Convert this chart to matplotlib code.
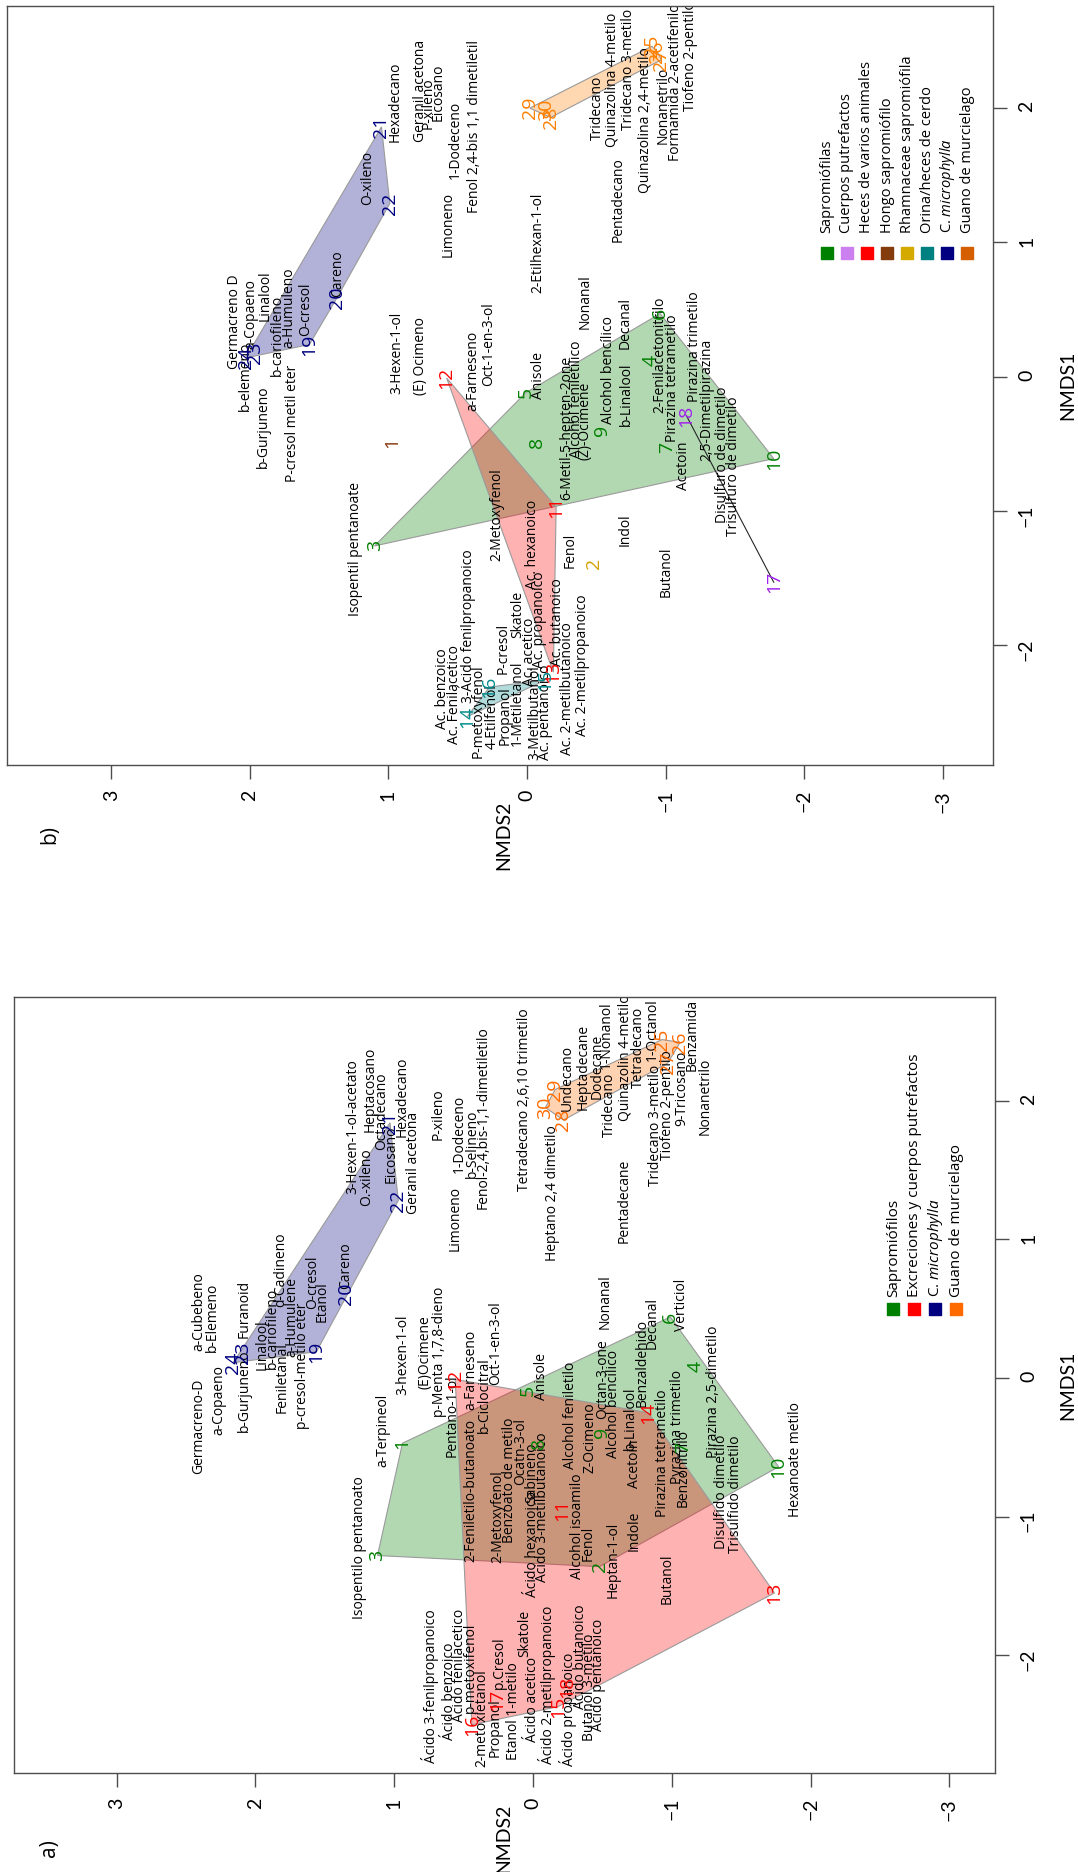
import matplotlib
matplotlib.use("Agg")
import matplotlib.pyplot as plt
import numpy as np
from matplotlib.patches import Polygon
from matplotlib.colors import to_rgba

plt.rcParams['font.family'] = ['Open Sans', 'DejaVu Sans']
plt.rcParams['mathtext.fontset'] = 'custom'
plt.rcParams['mathtext.rm'] = 'Open Sans'
plt.rcParams['mathtext.it'] = 'Open Sans:italic'

# ---------------- panel a) data ----------------
a_site = list(range(1, 31))
a_nmds1 = [-0.47, -1.36, -1.28, 0.08, -0.09, 0.44, -0.50, -0.47, -0.39, -0.64,
           -0.95, -0.01, -1.55, -0.25, -2.37, -2.50, -2.32, -2.23,
           0.19, 0.61, 1.84, 1.28, 0.18, 0.11,
           2.44, 2.42, 2.27, 1.86, 2.08, 1.95]
a_nmds2 = [0.94, -0.48, 1.12, -1.17, 0.04, -0.99, -1.08, -0.04, -0.50, -1.77,
           -0.21, 0.56, -1.74, -0.83, -0.18, 0.44, 0.26, -0.25,
           1.56, 1.35, 1.03, 0.97, 2.09, 2.16,
           -0.93, -1.06, -0.97, -0.22, -0.16, -0.09]
a_group = [0]*10 + [1]*8 + [2]*6 + [3]*6
a_groups = ['Sapromiófilos', 'Excreciones y cuerpos putrefactos',
            r'C. $microphylla$', 'Guano de murcielago']
a_colors = ['#008000', '#FF0000', '#000080', '#FF6A00']

a_labels = ["Germacreno-D", "a-Cubebeno", "b-Elemeno", "a-Copaeno", "b-Gurjuneno",
            "Furanoid", "Linalool", "b-cariofileno", "d-Cadineno", "a-Humulene",
            "Feniletanal", "p-cresol-metilo eter", "O-cresol", "Etanol", "Careno",
            "3-Hexen-1-ol-acetato", "O.-xileno", "Heptacosano", "Octadecano", "Eicosano",
            "Hexadecano", "Geranil acetona", "P-xileno", "1-Dodeceno", "Limoneno",
            "b-Selineno", "Fenol-2,4,bis-1,1-dimetiletilo", "Tetradecano 2,6,10 trimetilo",
            "Heptano 2,4 dimetilo", "Undecano", "Heptadecane", "Dodecane", "1-Nonanol",
            "Tridecano", "Quinazolin 4-metilo", "Tetradecano", "1-Octanol",
            "Tridecano 3-metilo", "Tiofeno 2-pentilo", "9-Tricosano", "Benzamida",
            "Nonanetrilo", "Pentadecane", "Nonanal", "Decanal", "Verticiol",
            "Pirazina 2,5-dimetilo", "Pyrazina trimetilo", "b-Linalool", "Benzaldehido",
            "Acetoin", "Indole", "Pirazina tetrametilo", "Benzonitrilo",
            "Disulfido dimetilo", "Trisulfido dimetilo", "Hexanoate metilo", "Butanol",
            "3-hexen-1-ol", "(E)Ocimene", "p-Menta 1,7,8-dieno", "Pentano-1-ol",
            "a-Farneseno", "b-Ciclocitral", "Oct-1-en-3-ol", "Anisole",
            "Alcohol feniletilo", "Octan-3-one", "Alcohol bencilico", "Z-Ocimeno",
            "a-Terpineol", "Isopentilo pentanoato", "Ácido 3-fenilpropanoico",
            "Ácido benzoico", "Ácido fenilacetico", "p-metoxifenol", "2-metoxietanol",
            "Propanol", "p.Cresol", "Etanol 1-metilo", "Skatole", "Ácido acetico",
            "Ácido 2-metilpropanoico", "Ácido propanoico", "Ácido butanoico",
            "Butanol 3-metilo", "Ácido pentanoico", "2-Feniletilo-butanoato",
            "2-Metoxyfenol", "Benzoato de metilo", "Ocatn-3-ol", "Sabineno",
            "Ácido hexanoico", "Ácido 3-metilbutanoico", "Alcohol isoamilo", "Fenol",
            "Heptan-1-ol"]
a_lab1 = [-0.35, 0.48, 0.44, -0.16, -0.09, 0.50, 0.24, 0.36, 0.78, 0.44,
          0.00, 0.09, 0.69, 0.55, 0.81, 1.81, 1.45, 2.08, 1.92, 1.61,
          2.03, 1.55, 1.90, 1.76, 1.15, 1.69, 1.88, 2.01, 1.33, 2.16,
          2.24, 2.25, 2.47, 1.97, 2.31, 2.38, 2.51, 1.82, 1.97, 2.09,
          2.47, 2.03, 1.28, 0.55, 0.40, 0.53, -0.10, -0.35, -0.29, 0.11,
          -0.62, -1.10, -0.54, -0.65, -0.82, -0.84, -0.59, -1.45, 0.17, 0.19,
          0.19, -0.27, 0.06, -0.12, 0.25, 0.01, -0.27, -0.01, -0.19, -0.43,
          -0.38, -1.22, -2.22, -2.26, -2.07, -2.09, -2.45, -2.52, -2.05, -2.40,
          -1.84, -2.32, -2.21, -2.39, -2.01, -2.23, -2.14, -0.81, -1.00, -0.74,
          -0.53, -0.68, -1.20, -0.93, -1.07, -1.19, -1.31]
a_lab2 = [2.41, 2.41, 2.31, 2.26, 2.08, 2.08, 1.95, 1.88, 1.82, 1.74,
          1.81, 1.66, 1.59, 1.52, 1.35, 1.30, 1.20, 1.17, 1.09, 1.02,
          0.94, 0.86, 0.68, 0.53, 0.56, 0.44, 0.36, 0.06, -0.14, -0.25,
          -0.36, -0.46, -0.53, -0.55, -0.66, -0.76, -0.86, -0.88, -0.97, -1.07,
          -1.15, -1.24, -0.66, -0.52, -0.86, -1.07, -1.30, -1.04, -0.70, -0.79,
          -0.73, -0.73, -0.93, -1.08, -1.36, -1.46, -1.89, -0.97, 0.94, 0.78,
          0.67, 0.58, 0.45, 0.35, 0.27, -0.06, -0.27, -0.50, -0.58, -0.41,
          1.08, 1.25, 0.74, 0.60, 0.53, 0.45, 0.37, 0.27, 0.24, 0.14,
          0.06, 0.00, -0.10, -0.25, -0.34, -0.41, -0.46, 0.45, 0.25, 0.17,
          0.09, 0.01, 0.00, -0.07, -0.32, -0.40, -0.58]

# ---------------- panel b) data ----------------
b_site = list(range(1, 31))
b_nmds1 = [-0.49, -1.39, -1.26, 0.12, -0.12, 0.47, -0.53, -0.49, -0.40, -0.61,
           -0.97, -0.01, -2.20, -2.53, -2.26, -2.31, -1.53, -0.29,
           0.24, 0.59, 1.86, 1.29, 0.18, 0.14,
           2.46, 2.42, 2.36, 1.93, 2.00, 1.99]
b_nmds2 = [0.97, -0.48, 1.10, -0.89, 0.01, -0.96, -1.01, -0.07, -0.54, -1.78,
           -0.21, 0.58, -0.19, 0.43, -0.13, 0.27, -1.78, -1.15,
           1.57, 1.37, 1.05, 0.99, 1.96, 2.03,
           -0.90, -0.94, -0.97, -0.17, -0.02, -0.14]
b_group = [3, 4] + [0]*8 + [2]*3 + [5]*3 + [1]*2 + [6]*6 + [7]*6
b_groups = ['Sapromiófilas', 'Cuerpos putrefactos', 'Heces de varios animales',
            'Hongo sapromiófilo', 'Rhamnaceae sapromiófila', 'Orina/heces de cerdo',
            r'C. $microphylla$', 'Guano de murcielago']
b_colors = ['#008000', '#A020F0', '#FF0000', '#8B3A0E', '#D4A000', '#008B8B',
            '#000080', '#FF7F00']
b_legcolors = ['#008000', '#CC80F0', '#FF0000', '#843C0C', '#D4AA00', '#008080',
               '#000080', '#D55E00']

b_labels = ["Hexadecano", "O-xileno", "Careno", "O-cresol", "Geranil acetona",
            "P-xileno", "Eicosano", "Limoneno", "1-Dodeceno",
            "Fenol 2,4-bis 1,1 dimetiletil", "2-Etilhexan-1-ol", "Tridecano",
            "Quinazolina 4-metilo", "Tridecano 3-metilo", "Pentadecano",
            "Quinazolina 2,4-metilo", "Nonanetrilo", "Formamida 2-acetifenilo",
            "Tiofeno 2-pentilo", "3-Hexen-1-ol", "(E) Ocimeno", "a-Farneseno",
            "Oct-1-en-3-ol", "Anisole", "Nonanal", "Alcohol bencílico", "Decanal",
            "b-Linalool", "2-Fenilacetonitrilo", "Pirazina tetrametilo",
            "Pirazina trimetilo", "2,5-Dimetilpirazina", "Acetoin",
            "Disulfuro de dimetilo", "Trisulfuro de dimetilo", "Germacreno D",
            "a-Copaeno", "b-elemeno", "b-Gurjuneno", "Linalool", "b-cariofileno",
            "a-Humuleno", "P-cresol metil eter", "Isopentil pentanoate",
            "2-Metoxyfenol", "Ac. hexanoico", "Fenol", "Indol", "Butanol",
            "6-Metil-5-hepten-2one", "Alcohol feniletílico", "(Z)-Ocimene",
            "Ac. benzoico", "Ac. Fenilacetico", "3-Ácido fenilpropanoico",
            "P-metoxyfenol", "4-Etilfenol", "Propanol", "P-cresol", "1-Metiletanol",
            "Skatole", "Ac. acetico", "3-Metilbutanol", "Ac. pentanoico",
            "Ac. propanoico", "Ac. butanoico", "Ac. 2-metilbutanoico",
            "Ac. 2-metilpropanoico"]
b_lab1 = [2.05, 1.48, 0.77, 0.50, 2.13, 2.04, 2.12, 1.13, 1.76, 1.86,
          1.00, 2.00, 2.21, 2.29, 1.32, 1.91, 2.02, 2.19, 2.39, 0.18,
          0.15, 0.04, 0.24, 0.01, 0.56, 0.05, 0.40, -0.13, 0.16, -0.01,
          0.22, -0.17, -0.66, -0.58, -0.67, 0.41, 0.47, 0.00, -0.37, 0.60,
          0.31, 0.51, -0.35, -1.28, -1.03, -1.25, -1.29, -1.14, -1.45, -0.38,
          -0.17, -0.33, -2.32, -2.37, -1.86, -2.49, -2.53, -2.52, -2.02, -2.43,
          -1.77, -2.05, -2.50, -2.50, -1.81, -1.83, -2.32, -2.15]
b_lab2 = [0.95, 1.15, 1.37, 1.60, 0.77, 0.71, 0.64, 0.57, 0.52, 0.38,
          -0.08, -0.51, -0.61, -0.73, -0.66, -0.85, -0.98, -1.07, -1.18, 0.94,
          0.77, 0.39, 0.28, -0.08, -0.42, -0.59, -0.71, -0.72, -0.96, -1.05,
          -1.21, -1.30, -1.13, -1.41, -1.49, 2.11, 1.99, 2.03, 1.90, 1.89,
          1.80, 1.72, 1.69, 1.24, 0.22, -0.04, -0.31, -0.71, -1.00, -0.29,
          -0.36, -0.42, 0.61, 0.52, 0.43, 0.35, 0.25, 0.16, 0.17, 0.07,
          0.07, -0.02, -0.06, -0.13, -0.09, -0.22, -0.29, -0.40]

TICK_FONT = ['Liberation Sans Narrow', 'Lato', 'DejaVu Sans']


def convex_hull(pts):
    pts = sorted(set(map(tuple, pts)))
    if len(pts) < 3:
        return pts

    def cross(o, a, b):
        return (a[0]-o[0])*(b[1]-o[1]) - (a[1]-o[1])*(b[0]-o[0])
    lower = []
    for p in pts:
        while len(lower) >= 2 and cross(lower[-2], lower[-1], p) <= 0:
            lower.pop()
        lower.append(p)
    upper = []
    for p in reversed(pts):
        while len(upper) >= 2 and cross(upper[-2], upper[-1], p) <= 0:
            upper.pop()
        upper.append(p)
    return lower[:-1] + upper[:-1]


def draw_panel(ax, site, s1, s2, grp, cols, labels, l1, l2, xlim, ylim):
    ax.set_xlim(*xlim)
    ax.set_ylim(*ylim)
    s1 = np.array(s1)
    s2 = np.array(s2)
    grp = np.array(grp)
    # hulls (NMDS2 on the horizontal axis, NMDS1 on the vertical one)
    for g in np.unique(grp):
        idx = grp == g
        pts = np.column_stack([s2[idx], s1[idx]])
        if len(pts) >= 3:
            h = convex_hull(pts)
            ax.add_patch(Polygon(h, closed=True, fc=to_rgba(cols[g], 0.3),
                                 ec='#9a9a9a', lw=0.8, zorder=1))
        elif len(pts) == 2:
            ax.plot(pts[:, 0], pts[:, 1], color='0.15', lw=0.8, zorder=1)
    for t, y, x in zip(labels, l1, l2):
        ax.text(x, y, t, rotation=90, ha='center', va='center', fontsize=10,
                color='black', clip_on=True, zorder=2)
    for n, y, x, g in zip(site, s1, s2, grp):
        ax.text(x, y, str(n), rotation=90, ha='center', va='center', fontsize=14,
                color=cols[g], clip_on=True, zorder=3)
    ax.set_xticks([-3, -2, -1, 0, 1, 2, 3])
    ax.set_yticks([-2, -1, 0, 1, 2])
    ax.yaxis.tick_right()
    ax.tick_params(axis='both', direction='out', length=10, width=1,
                   color='0.3', labelsize=14, pad=8)
    for lab in ax.get_xticklabels() + ax.get_yticklabels():
        lab.set_rotation(90)
        lab.set_family(TICK_FONT)
    for sp in ax.spines.values():
        sp.set_color('0.3')
        sp.set_linewidth(1)


def draw_legend(ax, names, cols, x0, dx, ysq, ytxt, fs):
    for i, (nm, c) in enumerate(zip(names, cols)):
        x = x0 + i*dx
        ax.scatter([x], [ysq], marker='s', s=80, color=c, transform=ax.transAxes,
                   clip_on=False, zorder=4)
        ax.text(x, ytxt, nm, rotation=90, ha='center', va='bottom', fontsize=fs,
                transform=ax.transAxes, zorder=4)


W, H = 1078, 1872
fig = plt.figure(figsize=(W/100, H/100), dpi=100)

# panel b (top)
axb = fig.add_axes([7/W, 1-765/H, 986/W, 759/H])
draw_panel(axb, b_site, b_nmds1, b_nmds2, b_group, b_colors, b_labels, b_lab1, b_lab2,
           (3.752, -3.362), (-2.891, 2.760))
draw_legend(axb, b_groups, b_legcolors, 0.8316, 0.0203, 0.6746, 0.7009, 10.5)

# panel a (bottom)
axa = fig.add_axes([14/W, 1-1773/H, 981/W, 776/H])
draw_panel(axa, a_site, a_nmds1, a_nmds2, a_group, a_colors, a_labels, a_lab1, a_lab2,
           (3.739, -3.329), (-2.848, 2.747))
draw_legend(axa, a_groups, a_colors, 0.8963, 0.0214, 0.598, 0.6134, 11)

# axis titles and panel letters
for ycen, ybot in [(385, 835), (1385, 1838)]:
    fig.text(1068/W, 1-ycen/H, 'NMDS1', rotation=90, ha='center', va='center',
             fontsize=14, family=TICK_FONT)
    fig.text(504/W, 1-ybot/H, 'NMDS2', rotation=90, ha='center', va='center',
             fontsize=14, family=TICK_FONT)
fig.text(50/W, 1-835/H, 'b)', rotation=90, ha='center', va='center', fontsize=15)
fig.text(50/W, 1-1848/H, 'a)', rotation=90, ha='center', va='center', fontsize=15)

fig.savefig('out.png', dpi=100)
